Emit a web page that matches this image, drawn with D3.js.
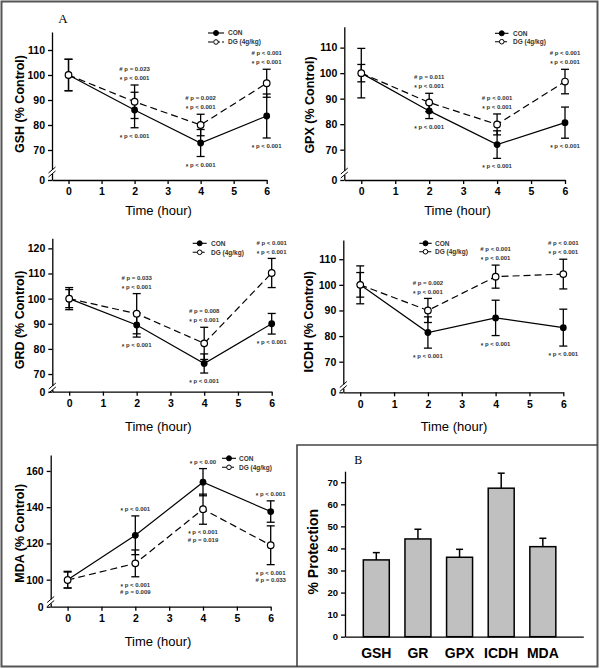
<!DOCTYPE html>
<html><head><meta charset="utf-8">
<script src="https://cdn.jsdelivr.net/npm/d3@7"></script>
<style>
body{margin:0;background:#fff}
svg{font-family:"Liberation Sans",Arial,sans-serif}
</style></head><body>
<svg id="c" width="600" height="669"></svg>
<script>
// ---------- DATA ----------
const hours = [0, 2, 4, 6];
const xTicks = [0, 1, 2, 3, 4, 5, 6];
const seriesNames = ["CON", "DG (4g/kg)"];

const gshCon = [100, 86, 72.8, 83.6];   const gshConErr = [6.3, 7.1, 5.4, 8.8];
const gshDg  = [100, 89.3, 80, 96.7];   const gshDgErr  = [6.3, 6.7, 4.3, 5.6];
const gpxCon = [100, 85.2, 72, 80.6];   const gpxConErr = [9.7, 3.0, 5.4, 6.1];
const gpxDg  = [100, 88.5, 79.9, 96.7]; const gpxDgErr  = [3.4, 3.6, 4.1, 4.8];
const grdCon = [100, 89.5, 74.2, 90];   const grdConErr = [4.4, 4.8, 3.8, 4.1];
const grdDg  = [100, 94, 82.2, 110.2];  const grdDgErr  = [3.6, 8.0, 6.4, 5.8];
const icdhCon = [100, 81.4, 87.1, 83.3];  const icdhConErr = [7.4, 6.1, 6.9, 7.2];
const icdhDg  = [100, 90, 103.2, 104.2];  const icdhDgErr  = [4.8, 4.7, 4.5, 5.8];
const mdaCon = [100, 124.5, 153.8, 137.6]; const mdaConErr = [4.6, 10.7, 7.5, 5.9];
const mdaDg  = [99.8, 109, 138.9, 119];    const mdaDgErr  = [4.4, 7.4, 8.3, 10.7];

const gshTicks = [0, 70, 80, 90, 100, 110];
const gpxTicks = [0, 70, 80, 90, 100, 110];
const grdTicks = [0, 70, 80, 90, 100, 110, 120];
const icdhTicks = [0, 70, 80, 90, 100, 110];
const mdaTicks = [0, 100, 120, 140, 160];

const gshAbove = [[], ["# p = 0.023", "* p < 0.001"], ["# p = 0.002", "* p < 0.001"], ["# p < 0.001", "* p < 0.001"]];
const gshBelow = [[], ["* p < 0.001"], ["* p < 0.001"], ["* p < 0.001"]];
const gpxAbove = [[], ["# p = 0.011", "* p < 0.001"], ["# p < 0.001", "* p < 0.001"], ["# p < 0.001", "* p < 0.001"]];
const gpxBelow = [[], ["* p < 0.001"], ["* p < 0.001"], ["* p < 0.001"]];
const grdAbove = [[], ["# p = 0.033", "* p < 0.001"], ["# p = 0.008", "* p < 0.001"], ["# p < 0.001", "* p < 0.001"]];
const grdBelow = [[], ["* p < 0.001"], ["* p < 0.001"], ["* p < 0.001"]];
const icdhAbove = [[], ["# p = 0.002", "* p < 0.001"], ["# p < 0.001", "* p < 0.001"], ["# p < 0.001", "* p < 0.001"]];
const icdhBelow = [[], ["* p < 0.001"], ["* p < 0.001"], ["* p < 0.001"]];
const mdaAbove = [[], ["* p < 0.001"], ["* p < 0.00"], ["* p < 0.001"]];
const mdaBelow = [[], ["* p < 0.001", "# p = 0.009"], ["* p < 0.001", "# p = 0.019"], ["* p < 0.001", "# p = 0.033"]];

const protCats = ["GSH", "GR", "GPX", "ICDH", "MDA"];
const protVals = [34.8, 44.3, 36.0, 67.3, 40.8];
const protErr  = [3.3, 4.4, 3.6, 6.8, 3.8];
const protTicks = [0, 10, 20, 30, 40, 50, 60, 70];

// ---------- DRAW ----------
const svg = d3.select("#c");
svg.append("rect").attr("x", 1.5).attr("y", 1.5).attr("width", 596).attr("height", 665)
  .attr("fill", "none").attr("stroke", "#555").attr("stroke-width", 2);
svg.append("path").attr("d", "M297,667 L297,445 L598,445")
  .attr("fill", "none").attr("stroke", "#444").attr("stroke-width", 1.6);

function annot(g, xx, yy, t) {
  const tx = g.append("text").attr("x", xx).attr("y", yy + 2.1).attr("text-anchor", "middle")
    .attr("font-size", 6).attr("font-weight", "bold").attr("fill", "#333");
  if (t[0] === "*") {
    tx.append("tspan").attr("baseline-shift", "-1.5").attr("font-size", 6.5).text("*");
    tx.append("tspan").attr("baseline-shift", "0").text(t.slice(1));
  } else tx.text(t);
}

function panel(cfg, con, conErr, dg, dgErr, ticks, above, below) {
  const g = svg.append("g");
  const x = d3.scaleLinear().domain([-0.5, 6]).range([cfg.ax, cfg.x6]);
  const y = d3.scaleLinear().domain(cfg.yDom).range(cfg.yRng);
  const y0 = cfg.yRng[0];

  const xa = g.append("g").attr("transform", `translate(0,${y0})`)
    .call(d3.axisBottom(x).tickValues(xTicks).tickFormat(d3.format("d")).tickSize(4).tickSizeOuter(0).tickPadding(4));
  const ya = g.append("g").attr("transform", `translate(${cfg.ax},0)`)
    .call(d3.axisLeft(y).tickValues(ticks).tickFormat(d3.format("d")).tickSize(4).tickSizeOuter(0).tickPadding(3));
  [xa, ya].forEach(a => {
    a.selectAll("path,line").attr("stroke", "#000").attr("stroke-width", 1.3);
    a.selectAll("text").attr("font-size", 10.5).attr("font-weight", "bold").attr("fill", "#000");
  });
  // axis break
  const b = cfg.breakY, ax = cfg.ax;
  g.append("rect").attr("x", ax - 2).attr("y", b - 2).attr("width", 4).attr("height", 4).attr("fill", "#fff");
  [-2, 2].forEach(o => g.append("line")
    .attr("x1", ax - 3.5).attr("y1", b + o + 3).attr("x2", ax + 3.5).attr("y2", b + o - 3)
    .attr("stroke", "#000").attr("stroke-width", 1));

  // lines
  const line = d3.line().x((d, i) => x(hours[i])).y(d => y(d));
  g.append("path").attr("d", line(con)).attr("fill", "none").attr("stroke", "#000").attr("stroke-width", 1.2);
  g.append("path").attr("d", line(dg)).attr("fill", "none").attr("stroke", "#000").attr("stroke-width", 1.2)
    .attr("stroke-dasharray", "7,4");

  // error bars
  function errs(vals, e) {
    vals.forEach((v, i) => {
      const xx = x(hours[i]);
      g.append("line").attr("x1", xx).attr("x2", xx).attr("y1", y(v - e[i])).attr("y2", y(v + e[i]))
        .attr("stroke", "#000").attr("stroke-width", 1.3);
      [v - e[i], v + e[i]].forEach(t => g.append("line").attr("x1", xx - 4).attr("x2", xx + 4)
        .attr("y1", y(t)).attr("y2", y(t)).attr("stroke", "#000").attr("stroke-width", 1.3));
    });
  }
  errs(con, conErr); errs(dg, dgErr);
  con.forEach((v, i) => g.append("circle").attr("cx", x(hours[i])).attr("cy", y(v)).attr("r", 3.4).attr("fill", "#000"));
  dg.forEach((v, i) => g.append("circle").attr("cx", x(hours[i])).attr("cy", y(v)).attr("r", 3.3)
    .attr("fill", "#fff").attr("stroke", "#000").attr("stroke-width", 1.2));

  // annotations
  hours.forEach((h, i) => {
    const top = Math.min(y(con[i] + conErr[i]), y(dg[i] + dgErr[i]));
    const bot = Math.max(y(con[i] - conErr[i]), y(dg[i] - dgErr[i]));
    const ab = above[i];
    ab.forEach((t, k) => annot(g, x(h), top - 7 - (ab.length - 1 - k) * cfg.lh, t));
    below[i].forEach((t, k) => annot(g, x(h), bot + 8 + k * cfg.lhb, t));
  });

  // legend
  const L = cfg.leg;
  [[L.y1, false], [L.y2, true]].forEach(([ly, open], k) => {
    g.append("line").attr("x1", L.x1).attr("x2", L.x2).attr("y1", ly).attr("y2", ly)
      .attr("stroke", "#000").attr("stroke-width", 1.1).attr("stroke-dasharray", open ? "5,2" : null);
    g.append("circle").attr("cx", (L.x1 + L.x2) / 2).attr("cy", ly).attr("r", open ? 2.3 : 2.5)
      .attr("fill", open ? "#fff" : "#000").attr("stroke", "#000").attr("stroke-width", 1);
    g.append("text").attr("x", L.tx).attr("y", ly).attr("dy", "0.35em").attr("font-size", 6.5)
      .attr("font-weight", "bold").attr("fill", "#333").text(seriesNames[k]);
  });

  // labels
  g.append("text").attr("x", cfg.xlx).attr("y", cfg.xly).attr("dy", "0.35em").attr("text-anchor", "middle")
    .attr("font-size", 13).attr("fill", "#000").text("Time (hour)");
  g.append("text").attr("transform", `translate(${cfg.ylx},${cfg.yly}) rotate(-90)`).attr("dy", "0.35em")
    .attr("text-anchor", "middle").attr("font-size", 12.5).attr("font-weight", "bold").attr("fill", "#000")
    .text(cfg.ylab);
}

panel({ax: 52, x6: 266.7, yDom: [0, 62, 117.2], yRng: [180, 170, 32], breakY: 172, lh: 9, lhb: 7.5,
  leg: {x1: 208, x2: 224, tx: 228, y1: 33, y2: 42}, xlx: 158.5, xly: 210.7, ylx: 19.5, yly: 104, ylab: "GSH (% Control)"},
  gshCon, gshConErr, gshDg, gshDgErr, gshTicks, gshAbove, gshBelow);

panel({ax: 344.3, x6: 565, yDom: [0, 62, 118.2], yRng: [180, 170.1, 26.7], breakY: 173, lh: 9, lhb: 7.5,
  leg: {x1: 495, x2: 508.5, tx: 513, y1: 33.3, y2: 41.7}, xlx: 457.5, xly: 210.7, ylx: 309.5, yly: 105, ylab: "GPX (% Control)"},
  gpxCon, gpxConErr, gpxDg, gpxDgErr, gpxTicks, gpxAbove, gpxBelow);

panel({ax: 52.3, x6: 271.7, yDom: [0, 65, 124], yRng: [391.7, 386.6, 238.3], breakY: 388, lh: 9, lhb: 7.5,
  leg: {x1: 192.7, x2: 206.7, tx: 211, y1: 243.3, y2: 252.3}, xlx: 158.3, xly: 426, ylx: 20, yly: 320, ylab: "GRD (% Control)"},
  grdCon, grdConErr, grdDg, grdDgErr, grdTicks, grdAbove, grdBelow);

panel({ax: 343.3, x6: 563.3, yDom: [0, 62, 117.5], yRng: [392.3, 382.2, 240], breakY: 386.5, lh: 9, lhb: 7.5,
  leg: {x1: 419.3, x2: 431.7, tx: 435, y1: 243.3, y2: 251.7}, xlx: 454, xly: 426, ylx: 308.5, yly: 321.7, ylab: "ICDH (% Control)"},
  icdhCon, icdhConErr, icdhDg, icdhDgErr, icdhTicks, icdhAbove, icdhBelow);

panel({ax: 50.7, x6: 270.7, yDom: [0, 90, 168.8], yRng: [606.7, 597.8, 455], breakY: 601.5, lh: 9, lhb: 7.4,
  leg: {x1: 222, x2: 236, tx: 239, y1: 458.3, y2: 467.3}, xlx: 158, xly: 641.7, ylx: 20, yly: 533.3, ylab: "MDA (% Control)"},
  mdaCon, mdaConErr, mdaDg, mdaDgErr, mdaTicks, mdaAbove, mdaBelow);

svg.append("text").attr("x", 63).attr("y", 18).attr("dy", "0.35em").attr("text-anchor", "middle")
  .attr("font-family", "Liberation Serif, serif").attr("font-size", 13).text("A");

// ---------- Panel B ----------
const gb = svg.append("g");
const bx = d3.scaleBand().domain(protCats).range([345, 583.3]).paddingInner(0.376).paddingOuter(0.55).align(0.4);
const by = d3.scaleLinear().domain([0, 75]).range([636.7, 471.2]);
gb.selectAll("rect.bar").data(protVals).join("rect").attr("class", "bar")
  .attr("x", (d, i) => bx(protCats[i])).attr("width", bx.bandwidth())
  .attr("y", d => by(d)).attr("height", d => by(0) - by(d))
  .attr("fill", "#c0c0c0").attr("stroke", "#000").attr("stroke-width", 1.5);
protVals.forEach((v, i) => {
  const cx = bx(protCats[i]) + bx.bandwidth() / 2;
  gb.append("line").attr("x1", cx).attr("x2", cx).attr("y1", by(v)).attr("y2", by(v + protErr[i]))
    .attr("stroke", "#000").attr("stroke-width", 1.5);
  gb.append("line").attr("x1", cx - 3.5).attr("x2", cx + 3.5).attr("y1", by(v + protErr[i])).attr("y2", by(v + protErr[i]))
    .attr("stroke", "#000").attr("stroke-width", 1.5);
});
const bya = gb.append("g").attr("transform", "translate(345,0)")
  .call(d3.axisLeft(by).tickValues(protTicks).tickSize(4).tickSizeOuter(0).tickPadding(3));
bya.selectAll("path,line").attr("stroke", "#000").attr("stroke-width", 1.3);
bya.selectAll("text").attr("font-size", 9.5).attr("font-weight", "bold").attr("fill", "#000");
const bxa = gb.append("g").attr("transform", "translate(0,636.7)")
  .call(d3.axisBottom(bx).tickSize(0).tickPadding(11));
bxa.select("path").attr("stroke", "#000").attr("stroke-width", 1.3);
bxa.selectAll("text").attr("font-size", 14).attr("font-weight", "bold").attr("fill", "#000");
gb.append("text").attr("transform", "translate(313.3,551.7) rotate(-90)").attr("dy", "0.35em")
  .attr("text-anchor", "middle").attr("font-size", 14).attr("font-weight", "bold").text("% Protection");
gb.append("text").attr("x", 358.3).attr("y", 460).attr("dy", "0.35em").attr("text-anchor", "middle")
  .attr("font-family", "Liberation Serif, serif").attr("font-size", 12).text("B");
</script>
</body></html>
